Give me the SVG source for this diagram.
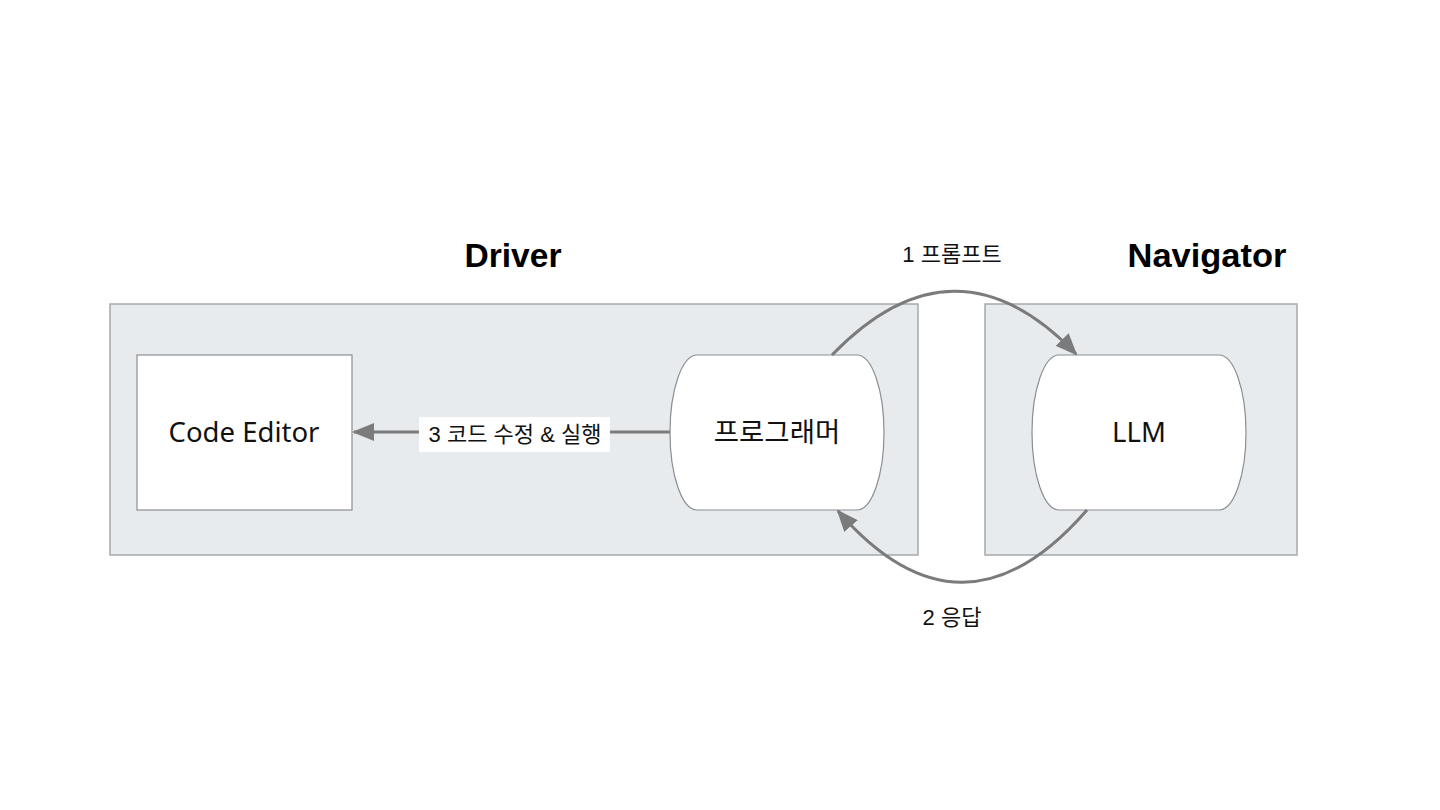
<svg xmlns="http://www.w3.org/2000/svg" width="1440" height="810" viewBox="0 0 1440 810">
<style>
.container{fill:#e8ebee;stroke:#a6a8ab;stroke-width:1.5}
.node{fill:#ffffff;stroke:#8c8e91;stroke-width:1.2}
.title{font-family:"Liberation Sans","Noto Sans",sans-serif;font-weight:bold;font-size:34px;fill:#000;text-anchor:middle}
.lbl{font-family:"Noto Sans","Noto Sans CJK KR",sans-serif;font-size:27.5px;fill:#111;text-anchor:middle}
.elbl{font-family:"Liberation Sans","Noto Sans CJK KR",sans-serif;font-size:22px;fill:#111;text-anchor:middle}
.conn{fill:none;stroke:#7b7b7b;stroke-width:3}
</style>
<defs>
<marker id="ah" viewBox="0 0 22 18" refX="20" refY="9" markerWidth="22" markerHeight="18" markerUnits="userSpaceOnUse" orient="auto">
<path d="M0,0 L22,9 L0,18 Z" fill="#7b7b7b"/>
</marker>
</defs>
<rect width="1440" height="810" fill="#ffffff"/>
<g id="driver">
<rect class="container" x="110" y="304" width="808" height="251"/>
<text class="title" x="513" y="267" textLength="97" lengthAdjust="spacingAndGlyphs">Driver</text>
</g>
<g id="navigator">
<rect class="container" x="985" y="304" width="312" height="251"/>
<text class="title" x="1207" y="267" textLength="159" lengthAdjust="spacingAndGlyphs">Navigator</text>
</g>
<g id="code-editor">
<rect class="node" x="137" y="355" width="215" height="155"/>
<text class="lbl" x="244" y="442">Code Editor</text>
</g>
<g id="programmer">
<path class="node" d="M697,355 H857 A27,77.5 0 0 1 857,510 H697 A27,77.5 0 0 1 697,355 Z"/>
<text class="lbl" x="777" y="442" font-family="'Noto Sans CJK KR',sans-serif">프로그래머</text>
</g>
<g id="llm">
<path class="node" d="M1059,355 H1219 A27,77.5 0 0 1 1219,510 H1059 A27,77.5 0 0 1 1059,355 Z"/>
<text class="lbl" x="1139" y="442">LLM</text>
</g>
<g id="connectors">
<path class="conn" d="M670,432 H354" marker-end="url(#ah)"/>
<rect x="419" y="417" width="191" height="35" fill="#ffffff"/>
<text class="elbl" x="515" y="442" font-family="'Noto Sans CJK KR',sans-serif">3 코드 수정 &amp; 실행</text>
<path class="conn" d="M832,355 Q955,228 1076,354" marker-end="url(#ah)"/>
<text class="elbl" x="952" y="262" font-family="'Noto Sans CJK KR',sans-serif">1 프롬프트</text>
<path class="conn" d="M1087,510 Q962,654 838,511" marker-end="url(#ah)"/>
<text class="elbl" x="952" y="625" font-family="'Noto Sans CJK KR',sans-serif">2 응답</text>
</g>
</svg>
